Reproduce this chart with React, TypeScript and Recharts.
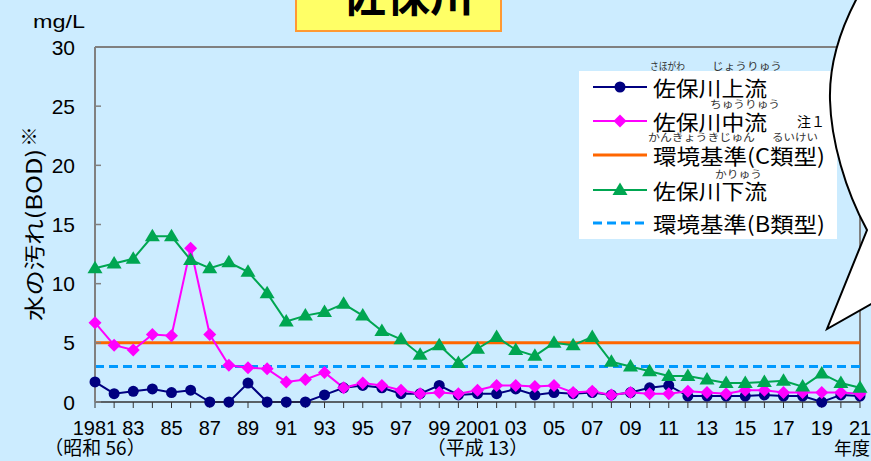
import { LineChart, Line, XAxis, YAxis, ReferenceLine } from 'recharts';

const YEARS = [
  1981, 1982, 1983, 1984, 1985, 1986, 1987, 1988, 1989, 1990,
  1991, 1992, 1993, 1994, 1995, 1996, 1997, 1998, 1999, 2000,
  2001, 2002, 2003, 2004, 2005, 2006, 2007, 2008, 2009, 2010,
  2011, 2012, 2013, 2014, 2015, 2016, 2017, 2018, 2019, 2020, 2021,
];

// 佐保川上流
const UPPER = [
  1.7, 0.7, 0.9, 1.1, 0.8, 1.0, 0, 0, 1.6, 0,
  0, 0, 0.6, 1.2, 1.4, 1.2, 0.7, 0.7, 1.4, 0.6,
  0.7, 0.7, 1.1, 0.6, 0.8, 0.7, 0.8, 0.6, 0.8, 1.2,
  1.4, 0.5, 0.5, 0.5, 0.5, 0.6, 0.5, 0.5, 0, 0.6, 0.5,
];

// 佐保川中流
const MIDDLE = [
  6.7, 4.8, 4.4, 5.7, 5.6, 13.0, 5.7, 3.1, 2.9, 2.8,
  1.7, 1.9, 2.5, 1.2, 1.6, 1.4, 1.0, 0.7, 0.8, 0.7,
  1.0, 1.4, 1.4, 1.3, 1.4, 0.8, 0.9, 0.6, 0.8, 0.7,
  0.7, 0.9, 0.8, 0.7, 1.0, 1.0, 0.8, 0.8, 0.8, 0.8, 0.7,
];

// 佐保川下流
const LOWER = [
  11.3, 11.7, 12.1, 14.0, 14.0, 12.0, 11.3, 11.8, 11.0, 9.2,
  6.8, 7.3, 7.6, 8.3, 7.3, 6.0, 5.3, 4.0, 4.8, 3.3,
  4.5, 5.5, 4.4, 3.9, 5.0, 4.8, 5.5, 3.4, 3.0, 2.6,
  2.2, 2.2, 1.9, 1.6, 1.6, 1.7, 1.8, 1.3, 2.4, 1.6, 1.2,
];

const X_LABELS = [
  '1981', '', '83', '', '85', '', '87', '', '89', '',
  '91', '', '93', '', '95', '', '97', '', '99', '',
  '2001', '', '03', '', '05', '', '07', '', '09', '',
  '11', '', '13', '', '15', '', '17', '', '19', '', '21',
];
const ERA_LABELS: Record<number, string> = { 1981: '（昭和 56）', 2001: '（平成 13）' };

const Y_TICKS = [0, 5, 10, 15, 20, 25, 30];
const STD_C = 5;
const STD_B = 3;

const data = YEARS.map((year, i) => ({
  year,
  upper: UPPER[i],
  middle: MIDDLE[i],
  lower: LOWER[i],
}));

const FONT = '"Noto Sans CJK JP", "Noto Sans", sans-serif';
const NUM_FONT = '"Liberation Sans", Arial, sans-serif';
const NAVY = '#000080';
const MAGENTA = '#FF00FF';
const GREEN = '#00A651';
const ORANGE = '#FF6600';
const BLUE = '#0099FF';

const CircleDot = (p: any) => <circle key={p.index} cx={p.cx} cy={p.cy} r={5.5} fill={NAVY} />;
const DiamondDot = (p: any) => (
  <polygon
    key={p.index}
    points={`${p.cx},${p.cy - 6.5} ${p.cx + 6.5},${p.cy} ${p.cx},${p.cy + 6.5} ${p.cx - 6.5},${p.cy}`}
    fill={MAGENTA}
  />
);
const TriangleDot = (p: any) => (
  <polygon
    key={p.index}
    points={`${p.cx},${p.cy - 7.5} ${p.cx + 7.5},${p.cy + 5} ${p.cx - 7.5},${p.cy + 5}`}
    fill={GREEN}
  />
);

const XTick = (p: any) => {
  const i = YEARS.indexOf(p.payload.value);
  const label = X_LABELS[i];
  const era = ERA_LABELS[p.payload.value];
  return (
    <g>
      {label && (
        <text x={p.x} y={p.y + 25} textAnchor="middle" fontSize={20} fontFamily={NUM_FONT} fill="#000">
          {label}
        </text>
      )}
      {era && (
        <text x={p.x} y={p.y + 45} textAnchor="middle" fontSize={19} fontFamily={FONT} fill="#000">
          {era}
        </text>
      )}
    </g>
  );
};

const YTick = (p: any) => (
  <g>
    <text x={p.x} y={p.y} dy={7.5} textAnchor="end" fontSize={21} fontFamily={NUM_FONT} fill="#000">
      {p.payload.value}
    </text>
    <line x1={p.x + 20} x2={p.x + 26} y1={p.y} y2={p.y} stroke="#808080" strokeWidth={1.5} />
  </g>
);

const fit = { lengthAdjust: 'spacingAndGlyphs' as const };

export default function App() {
  return (
    <div style={{ position: 'absolute', left: 0, top: 0, width: 871, height: 461, background: '#CCECFF', overflow: 'hidden', fontFamily: FONT }}>
      <LineChart width={871} height={461} data={data} margin={{ top: 47, right: 11, bottom: 0, left: 0 }}>
        <XAxis
          dataKey="year"
          type="number"
          domain={[1981, 2021]}
          ticks={YEARS}
          interval={0}
          height={59}
          tickSize={6}
          tickMargin={2}
          tick={<XTick />}
          axisLine={{ stroke: '#333', strokeWidth: 1.5 }}
          tickLine={{ stroke: '#333', strokeWidth: 1 }}
        />
        <YAxis
          type="number"
          domain={[0, 30]}
          ticks={Y_TICKS}
          interval={0}
          width={95}
          tickSize={0}
          tickMargin={20}
          tick={<YTick />}
          axisLine={{ stroke: '#808080', strokeWidth: 2 }}
          tickLine={false}
        />
        <ReferenceLine y={30} stroke="#808080" strokeWidth={2} />
        <ReferenceLine x={2021} stroke="#808080" strokeWidth={2} />
        <ReferenceLine y={STD_C} stroke={ORANGE} strokeWidth={3} />
        <ReferenceLine y={STD_B} stroke={BLUE} strokeWidth={3} strokeDasharray="9 5" />
        <Line dataKey="upper" stroke={NAVY} strokeWidth={2} dot={CircleDot} isAnimationActive={false} />
        <Line dataKey="middle" stroke={MAGENTA} strokeWidth={2} dot={DiamondDot} isAnimationActive={false} />
        <Line dataKey="lower" stroke={GREEN} strokeWidth={2} dot={TriangleDot} isAnimationActive={false} />
      </LineChart>

      {/* title box, cut off at the top */}
      <div style={{ position: 'absolute', left: 295, top: -4, width: 203, height: 32, background: '#FFFF66', border: '2px solid #FF9933', overflow: 'hidden' }}>
        <div style={{ position: 'absolute', left: 45, top: -27, fontSize: 44, lineHeight: '44px', fontWeight: 'bold', color: '#000', whiteSpace: 'nowrap' }}>
          佐保川
        </div>
      </div>

      <svg width={871} height={461} style={{ position: 'absolute', left: 0, top: 0, pointerEvents: 'none' }}>
        <text x={33} y={22} fontSize={18} fontFamily={NUM_FONT} dominantBaseline="central" textLength={52} {...fit}>mg/L</text>
        <text x={29} y={135} fontSize={19} fontFamily={FONT} textAnchor="middle" dominantBaseline="central">※</text>
        <text x={33} y={235} fontSize={21} fontFamily={FONT} textAnchor="middle" dominantBaseline="central" transform="rotate(-90 33 235)" textLength={172} {...fit}>
          水の汚れ(BOD)
        </text>
        <text x={852} y={447} fontSize={18} fontFamily={FONT} textAnchor="middle" dominantBaseline="central">年度</text>

        {/* legend */}
        <rect x={579} y={71} width={258} height={168} fill="#fff" />
        <g fontFamily={FONT} fill="#333" fontSize={10.5}>
          <text x={650} y={65} dominantBaseline="central" textLength={35} {...fit}>さほがわ</text>
          <text x={712} y={65} dominantBaseline="central" textLength={70} {...fit}>じょうりゅう</text>
          <text x={710} y={103} dominantBaseline="central" textLength={70} {...fit}>ちゅうりゅう</text>
          <text x={648} y={136} dominantBaseline="central" textLength={107} {...fit}>かんきょうきじゅん</text>
          <text x={772} y={136} dominantBaseline="central" textLength={46} {...fit}>るいけい</text>
          <text x={715} y={173} dominantBaseline="central" textLength={47} {...fit}>かりゅう</text>
        </g>
        <text x={797} y={121} fontSize={14} fontFamily={FONT} dominantBaseline="central">注１</text>
        <g fontFamily={FONT} fill="#000" fontSize={21}>
          <line x1={593} x2={647} y1={87} y2={87} stroke={NAVY} strokeWidth={2} />
          <circle cx={620} cy={87} r={5.5} fill={NAVY} />
          <text x={653} y={87} dominantBaseline="central" textLength={114} {...fit}>佐保川上流</text>

          <line x1={593} x2={647} y1={121} y2={121} stroke={MAGENTA} strokeWidth={2} />
          <polygon points="620,114.5 626.5,121 620,127.5 613.5,121" fill={MAGENTA} />
          <text x={653} y={121} dominantBaseline="central" textLength={114} {...fit}>佐保川中流</text>

          <line x1={593} x2={647} y1={155} y2={155} stroke={ORANGE} strokeWidth={3} />
          <text x={653} y={155} dominantBaseline="central" textLength={172} {...fit}>環境基準(C類型)</text>

          <line x1={593} x2={647} y1={190} y2={190} stroke={GREEN} strokeWidth={2} />
          <polygon points="620,182.5 627.5,195 612.5,195" fill={GREEN} />
          <text x={653} y={190} dominantBaseline="central" textLength={114} {...fit}>佐保川下流</text>

          <line x1={593} x2={647} y1={223} y2={223} stroke={BLUE} strokeWidth={3} strokeDasharray="9 5" />
          <text x={653} y={223} dominantBaseline="central" textLength={172} {...fit}>環境基準(B類型)</text>
        </g>

        {/* speech bubble */}
        <path
          d="M857,-2 C840,30 829,65 830,100 C831,140 845,190 867,230 L827,329 L873,303 L873,-2 Z"
          fill="#fff"
          stroke="#000"
          strokeWidth={2}
        />
      </svg>
    </div>
  );
}
